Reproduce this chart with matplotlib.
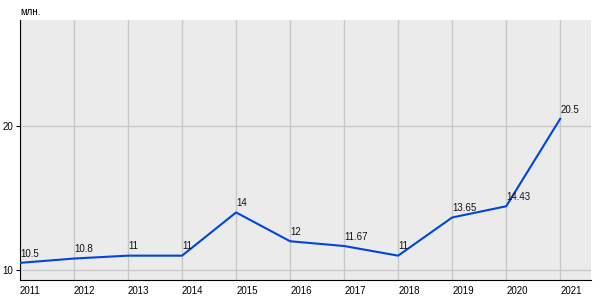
import matplotlib
matplotlib.use("Agg")
import matplotlib.pyplot as plt

years = [2011, 2012, 2013, 2014, 2015, 2016, 2017, 2018, 2019, 2020, 2021]
values = [10.5, 10.8, 11, 11, 14, 12, 11.67, 11, 13.65, 14.43, 20.5]
labels = ["10.5", "10.8", "11", "11", "14", "12", "11.67", "11", "13.65", "14.43", "20.5"]
yticks = [10, 20]
unit = "млн."

plt.rcParams['font.family'] = ['Liberation Sans', 'DejaVu Sans']
fig = plt.figure(figsize=(6, 3), dpi=100)
ax = fig.add_axes([20/600, 20/300, 571/600, 260/300])
ax.set_facecolor('#ebebeb')
ax.plot(years, values, color='#0044e0', lw=1.5, zorder=3)
for x, y, t in zip(years, values, labels):
    ax.annotate(t, (x, y), xytext=(0, 3), textcoords='offset points',
                fontsize=7, ha='left', va='bottom', color='#111111')
ax.set_xlim(2011, 2021.57)
ax.set_ylim(9.31, 27.36)
ax.set_xticks(years)
ax.set_yticks(yticks)
for lab in ax.get_xticklabels():
    lab.set_ha('left')
ax.grid(True, color='#c8c8c8', lw=1)
ax.set_axisbelow(True)
for s in ['top', 'right']:
    ax.spines[s].set_visible(False)
ax.spines['left'].set_color('black')
ax.spines['bottom'].set_color('black')
ax.tick_params(axis='x', length=0, labelsize=7, pad=4)
ax.tick_params(axis='y', length=3, labelsize=7, pad=2)
fig.text(20/600, 1 - 12/300, unit, fontsize=7, ha='left', va='center')
fig.savefig('out.png', dpi=100)
